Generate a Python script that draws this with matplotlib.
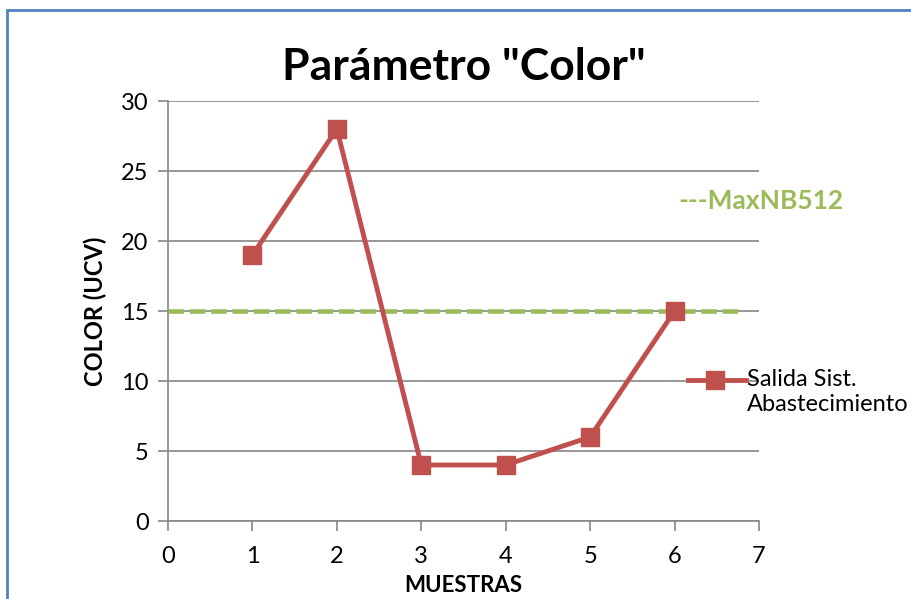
import matplotlib
matplotlib.use("Agg")
import matplotlib.pyplot as plt
from matplotlib.patches import Rectangle
from matplotlib.lines import Line2D

# muestras and measured colour (UCV)
muestras = [1, 2, 3, 4, 5, 6]
color_ucv = [19, 28, 4, 4, 6, 15]
limite_nb512 = 15
limite_x = [0, 6.75]

RED = "#C0504D"
GREEN = "#9BBB59"
GRID = "#868686"

plt.rcParams["font.family"] = ["Lato", "DejaVu Sans"]

fig = plt.figure(figsize=(9.11, 5.99), dpi=100)
ax = fig.add_axes([168 / 911, 1 - 521 / 599, 591 / 911, 420 / 599])

ax.plot(limite_x, [limite_nb512, limite_nb512], color=GREEN, lw=3.3,
        ls=(0, (3.4, 1.25)), solid_capstyle="butt", zorder=3)
ax.plot(muestras, color_ucv, color=RED, lw=3.5, marker="s", ms=13,
        mec=RED, mfc=RED, zorder=4)

ax.set_xlim(0, 7)
ax.set_ylim(0, 30)
ax.set_xticks(range(0, 8))
ax.set_yticks(range(0, 31, 5))
ax.yaxis.grid(True, color=GRID, lw=1.2)
ax.set_axisbelow(True)
for s in ("top", "right"):
    ax.spines[s].set_visible(False)
for s in ("left", "bottom"):
    ax.spines[s].set_color(GRID)
    ax.spines[s].set_linewidth(1.2)
ax.tick_params(direction="out", length=7, width=1.2, color=GRID,
               labelsize=17, pad=7)
ax.tick_params(axis="x", pad=11)

ax.set_xlabel("MUESTRAS", fontsize=16, fontweight="bold", labelpad=6)
ax.set_ylabel("COLOR (UCV)", fontsize=17, fontweight="bold", labelpad=10)
ax.set_title('Parámetro "Color"', fontsize=32, fontweight="bold", pad=15)

# legend-like annotations on the right
fig.text(678 / 911, 1 - 201 / 599, "---MaxNB512", color=GREEN, fontsize=19,
         fontweight="bold", va="center")
fig.add_artist(Line2D([688 / 911, 746 / 911], [1 - 380 / 599] * 2,
                      color=RED, lw=3.5, transform=fig.transFigure))
fig.add_artist(Line2D([715 / 911], [1 - 380 / 599], color=RED, marker="s",
                      ms=13, transform=fig.transFigure))
fig.text(747 / 911, 1 - 369 / 599, "Salida Sist.\nAbastecimiento",
         fontsize=17, va="top", ha="left", linespacing=1.25)

# outer frame of the chart area
fig.add_artist(Rectangle((7 / 911, -0.05), 1.0, 1 - 10 / 599 + 0.05,
                         transform=fig.transFigure, fill=False,
                         edgecolor="#4F81BD", lw=2))

fig.savefig("out.png", dpi=100)
